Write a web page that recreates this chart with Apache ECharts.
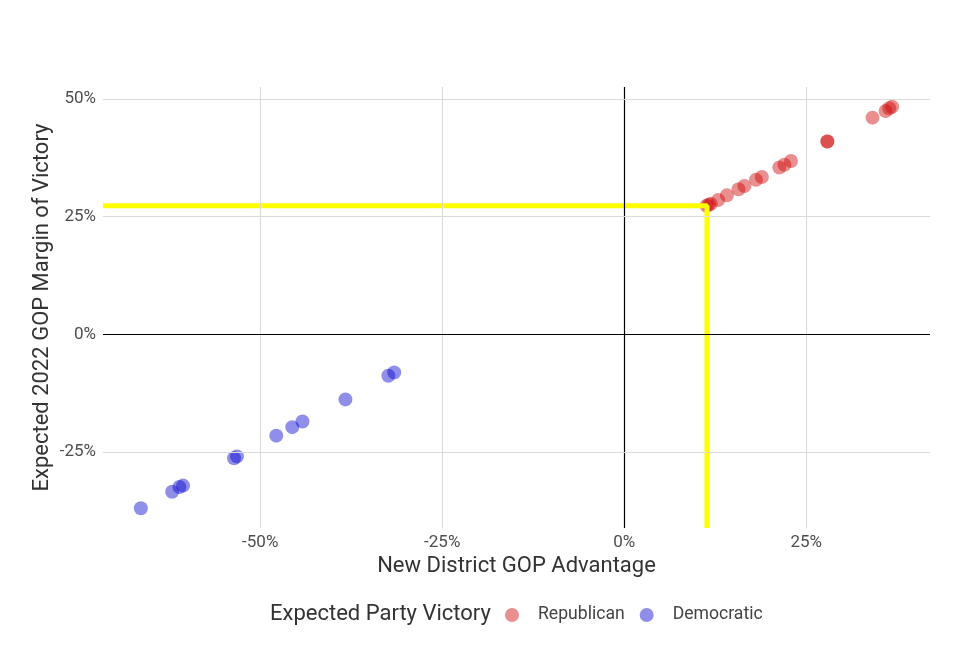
<!DOCTYPE html>
<html>
<head>
<meta charset="utf-8">
<script src="https://cdn.jsdelivr.net/npm/echarts@6.0.0/dist/echarts.min.js"></script>
<style>
  html, body { margin: 0; padding: 0; background: #fff; }
  #chart { width: 956px; height: 668px; }
</style>
</head>
<body>
<div id="chart"></div>
<script>
// values, in percent
const repX = [11.3, 11.6, 11.9, 12.9, 14.1, 15.7, 16.5, 18.1, 18.9, 21.3, 22.0, 22.9, 27.9, 27.9, 34.1, 35.9, 36.4, 36.8];
const repY = [27.3, 27.5, 27.7, 28.5, 29.5, 30.8, 31.5, 32.8, 33.4, 35.4, 36.0, 36.8, 40.9, 41.0, 46.0, 47.4, 48.0, 48.3];
const demX = [-66.4, -62.1, -61.1, -60.6, -53.6, -53.2, -47.8, -45.6, -44.2, -38.3, -32.4, -31.6];
const demY = [-36.9, -33.4, -32.4, -32.1, -26.3, -25.9, -21.5, -19.7, -18.5, -13.8, -8.8, -8.1];

const xTicks = [-50, -25, 0, 25];
const yTicks = [-25, 0, 25, 50];
const xRange = [-71.6, 42.0];
const yRange = [-41.1, 52.5];

// highlighted district
const markX = 11.36;
const markY = 27.3;

const chart = echarts.init(document.getElementById('chart'));

const gridColor = '#dadada';
const pct = v => v + '%';

const gridLines = [];
xTicks.forEach(v => gridLines.push({
  xAxis: v,
  lineStyle: { color: v === 0 ? '#000' : gridColor, width: v === 0 ? 1.2 : 1.1, type: 'solid' }
}));
yTicks.forEach(v => gridLines.push({
  yAxis: v,
  lineStyle: { color: v === 0 ? '#000' : gridColor, width: v === 0 ? 1.2 : 1.1, type: 'solid' }
}));

const zip = (xs, ys) => xs.map((x, i) => [x, ys[i]]);

const option = {
  animation: false,
  textStyle: { fontFamily: 'Roboto' },
  grid: { left: 103, right: 26, top: 87, bottom: 140 },
  title: {
    text: 'Expected Party Victory',
    left: 270,
    top: 603,
    padding: 0,
    textStyle: { fontFamily: 'Roboto', fontSize: 22, fontWeight: 'normal', color: '#333' }
  },
  legend: {
    left: 505,
    top: 606,
    padding: 0,
    itemWidth: 14,
    itemHeight: 14,
    itemGap: 15,
    icon: 'circle',
    data: ['Republican', 'Democratic'],
    textStyle: { fontFamily: 'Roboto', fontSize: 17.6, color: '#444', padding: [0, 0, 0, 14] }
  },
  xAxis: {
    type: 'value',
    min: xRange[0],
    max: xRange[1],
    name: 'New District GOP Advantage',
    nameLocation: 'middle',
    nameGap: 26,
    nameTextStyle: { fontFamily: 'Roboto', fontSize: 22, color: '#333' },
    axisLine: { show: false },
    axisTick: { show: false },
    splitLine: { show: false },
    axisLabel: {
      customValues: xTicks,
      formatter: pct,
      margin: 6,
      fontSize: 17,
      color: '#4d4d4d',
      fontFamily: 'Roboto'
    }
  },
  yAxis: {
    type: 'value',
    min: yRange[0],
    max: yRange[1],
    name: 'Expected 2022 GOP Margin of Victory',
    nameLocation: 'middle',
    nameGap: 50,
    nameMoveOverlap: false,
    nameTextStyle: { fontFamily: 'Roboto', fontSize: 22, color: '#333' },
    axisLine: { show: false },
    axisTick: { show: false },
    splitLine: { show: false },
    axisLabel: {
      customValues: yTicks,
      formatter: pct,
      margin: 7,
      fontSize: 17,
      color: '#4d4d4d',
      fontFamily: 'Roboto'
    }
  },
  series: [
    {
      name: 'grid',
      type: 'line',
      data: [],
      silent: true,
      markLine: {
        silent: true,
        symbol: ['none', 'none'],
        label: { show: false },
        data: gridLines
      }
    },
    {
      name: 'highlight',
      type: 'line',
      silent: true,
      symbol: 'none',
      lineStyle: { color: '#ffff00', width: 5 },
      data: [[xRange[0], markY], [markX, markY], [markX, yRange[0]]]
    },
    {
      name: 'Republican',
      type: 'scatter',
      symbolSize: 14,
      itemStyle: { color: 'rgba(205,0,0,0.55)' },
      data: zip(repX, repY)
    },
    {
      name: 'Democratic',
      type: 'scatter',
      symbolSize: 14,
      itemStyle: { color: 'rgba(0,0,205,0.55)' },
      data: zip(demX, demY)
    }
  ]
};

chart.setOption(option);
</script>
</body>
</html>
